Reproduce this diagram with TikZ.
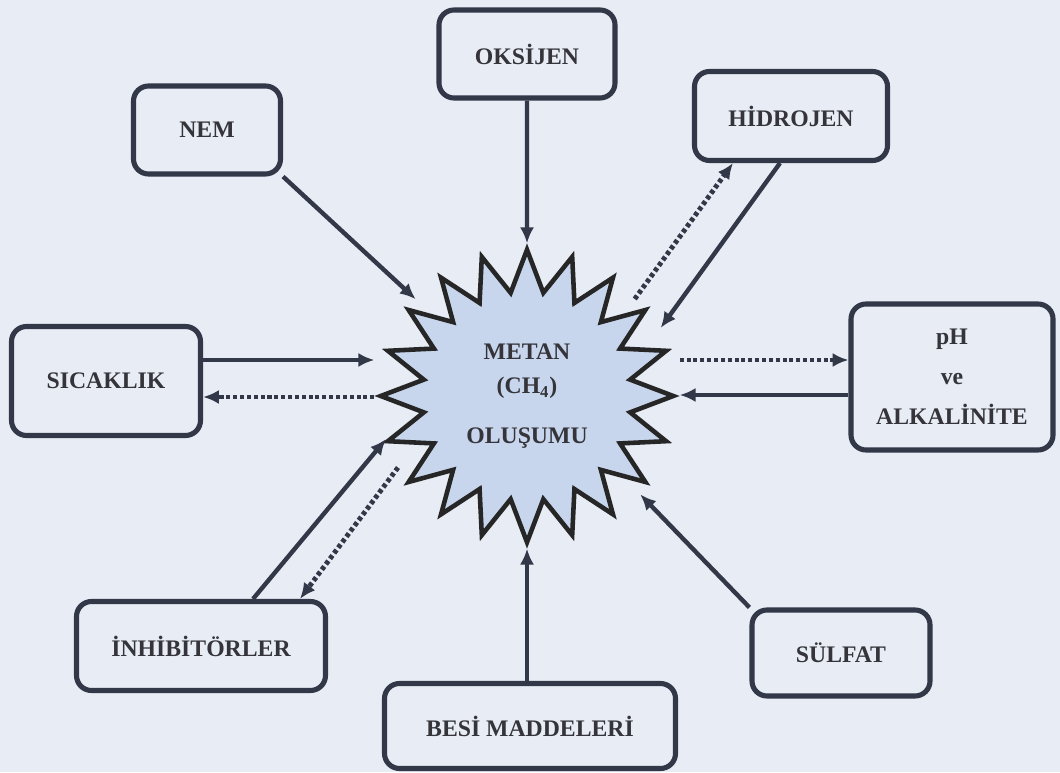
\documentclass[tikz,border=0pt]{standalone}
\usepackage{fontspec}
\setmainfont{Liberation Serif}
\usepackage{xcolor}
\usepackage{tikz}
\usetikzlibrary{shapes,arrows.meta,positioning}

\definecolor{pagebg}{RGB}{231,236,245}
\definecolor{linecol}{RGB}{50,56,72}
\definecolor{burstfill}{RGB}{199,214,236}
\definecolor{txtcol}{RGB}{52,52,58}
\newcommand{\boxfont}{\fontsize{13.5}{22.7}\selectfont\bfseries}
\newcommand{\burstfont}{\fontsize{13.5}{19.8}\selectfont\bfseries}

\begin{document}
\begin{tikzpicture}[
    box/.style={rectangle, rounded corners=0.3cm, draw=linecol, line width=2.9pt, fill=pagebg, align=center, text=txtcol, font=\boxfont},
    burst/.style={star, star points=20, star point ratio=1.4, draw=black!85, line width=2.6pt, fill=burstfill, minimum size=5.85cm, align=center, text=txtcol, font=\burstfont},
    arrow/.style={-{Latex[length=9pt,width=8pt]}, line width=2.5pt, draw=linecol},
    dotarrow/.style={arrow, line width=2.8pt, dash pattern=on 2.3pt off 1.6pt}
]
    \path[use as bounding box, fill=pagebg] (0,0) rectangle (21.2,15.44);

    % Centre
    \node[burst] (metan) at (10.54,7.52) {METAN\\(CH\textsubscript{4})\\[0.3cm]OLUŞUMU};

    % Factors
    \node[box, minimum width=3.52cm, minimum height=1.76cm] (oksijen) at (10.54,14.36) {OKSİJEN};
    \node[box, minimum width=2.94cm, minimum height=1.76cm] (nem) at (4.14,12.84) {NEM};
    \node[box, minimum width=3.86cm, minimum height=1.78cm] (hidrojen) at (15.82,13.12) {HİDROJEN};
    \node[box, minimum width=3.78cm, minimum height=2.18cm] (sicaklik) at (2.12,7.82) {SICAKLIK};
    \node[box, minimum width=4.04cm, minimum height=2.92cm] (ph) at (19.04,7.9) {pH\\ve\\ALKALİNİTE};
    \node[box, minimum width=4.98cm, minimum height=1.78cm] (inhibitor) at (4.02,2.52) {İNHİBİTÖRLER};
    \node[box, minimum width=5.82cm, minimum height=1.7cm] (besi) at (10.6,0.92) {BESİ MADDELERİ};
    \node[box, minimum width=3.56cm, minimum height=1.72cm] (sulfat) at (16.82,2.38) {SÜLFAT};

    % Points on the star
    \coordinate (nemIn) at ([shift={(139:2.95)}]metan.center);
    \coordinate (hidIn) at ([shift={(27:3.0)}]metan.center);
    \coordinate (hidOut) at ([shift={(42:2.9)}]metan.center);
    \coordinate (inhIn) at ([shift={(197:2.95)}]metan.center);
    \coordinate (inhOut) at ([shift={(209:2.95)}]metan.center);
    \coordinate (sulIn) at ([shift={(319:3.0)}]metan.center);
    \coordinate (sicA) at ([yshift=0.42cm]sicaklik.east);
    \coordinate (sicB) at ([yshift=-0.32cm]sicaklik.east);
    \coordinate (phA) at ([yshift=0.34cm]ph.west);
    \coordinate (phB) at ([yshift=-0.36cm]ph.west);

    % Arrows
    \draw[arrow] (nem.south east) -- (nemIn);
    \draw[arrow] (oksijen) -- (metan);
    \draw[arrow] ([xshift=-0.22cm]hidrojen.south) -- (hidIn);
    \draw[dotarrow] (hidOut) -- ([xshift=-1.16cm]hidrojen.south);
    \draw[arrow] (sicA) -- (sicA -| metan.west);
    \draw[dotarrow] (sicB -| metan.west) -- (sicB);
    \draw[dotarrow] (phA -| metan.east) -- (phA);
    \draw[arrow] (phB) -- (phB -| metan.east);
    \draw[arrow] ([xshift=1.04cm]inhibitor.north) -- (inhIn);
    \draw[dotarrow] (inhOut) -- ([xshift=1.98cm]inhibitor.north);
    \draw[arrow] (besi.north -| metan.south) -- (metan.south);
    \draw[arrow] (sulfat.north west) -- (sulIn);
\end{tikzpicture}
\end{document}
